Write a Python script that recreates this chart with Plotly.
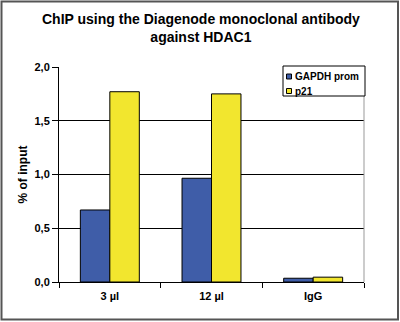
import plotly.graph_objects as go

categories = ["3 µl", "12 µl", "IgG"]
series_names = ["GAPDH prom", "p21"]
gapdh = [0.67, 0.965, 0.035]
p21 = [1.77, 1.75, 0.045]
colors = ["#3F5DA8", "#F2E62E"]

W, H = 400, 322
L, R, T, B = 59, 36, 67, 40

def px(x):
    return (x - L) / (W - L - R)

def py(y):
    return (H - B - y) / (H - T - B)

font_fam = "Liberation Sans, Arial, sans-serif"

fig = go.Figure()
for name, vals, col in zip(series_names, [gapdh, p21], colors):
    fig.add_trace(go.Bar(name=name, x=categories, y=vals,
                         marker=dict(color=col, line=dict(color="black", width=1))))

fig.update_layout(
    width=W, height=H,
    margin=dict(l=L, r=R, t=T, b=B),
    paper_bgcolor="white", plot_bgcolor="white",
    separators=", ",
    barmode="group", bargap=0.42, bargroupgap=0,
    font=dict(family=font_fam, color="black"),
    showlegend=False,
)
fig.add_annotation(text="<b>ChIP using the Diagenode monoclonal antibody<br>against HDAC1</b>",
                   xref="paper", yref="paper", x=px(201), y=py(9),
                   xanchor="center", yanchor="top", showarrow=False,
                   font=dict(size=14, family=font_fam, color="black"))
fig.update_yaxes(range=[0, 2], dtick=0.5, tickformat=".1f",
                 showgrid=True, gridcolor="black", gridwidth=1,
                 showline=True, linecolor="black", linewidth=1,
                 ticks="outside", ticklen=6, tickcolor="black",
                 tickfont=dict(size=11, family=font_fam, color="black", weight="bold"),
                 title=dict(text="<b>% of input</b>", standoff=4,
                            font=dict(size=12, family=font_fam, color="black")),
                 zeroline=False)
fig.update_xaxes(showline=True, linecolor="black", linewidth=1,
                 ticks="outside", ticklen=5, tickcolor="black", tickson="boundaries",
                 ticklabelstandoff=4,
                 tickfont=dict(size=11, family=font_fam, color="black", weight="bold"),
                 showgrid=False)

# plot area right border (gray)
fig.add_shape(type="line", xref="paper", yref="paper", x0=1, x1=1, y0=0, y1=1,
              line=dict(color="#999999", width=1))

# manual legend (compact, like the reference)
fig.add_shape(type="rect", xref="paper", yref="paper",
              x0=px(283), x1=px(365), y0=py(96), y1=py(66),
              line=dict(color="black", width=1), fillcolor="white", layer="above")
for i, (name, col) in enumerate(zip(series_names, colors)):
    cy = 76.5 + i * 14.5
    fig.add_shape(type="rect", xref="paper", yref="paper",
                  x0=px(286.5), x1=px(291.5), y0=py(cy + 2.5), y1=py(cy - 2.5),
                  line=dict(color="black", width=1), fillcolor=col, layer="above")
    fig.add_annotation(text="<b>" + name + "</b>", xref="paper", yref="paper",
                       x=px(292.5), y=py(cy), xanchor="left", yanchor="middle",
                       showarrow=False,
                       font=dict(size=10, family=font_fam, color="black"))

# outer chart border
fig.add_shape(type="rect", xref="paper", yref="paper",
              x0=px(1.5), x1=px(398), y0=py(319.5), y1=py(1.5),
              line=dict(color="#555555", width=2), layer="above")

fig.write_html("out.html")
